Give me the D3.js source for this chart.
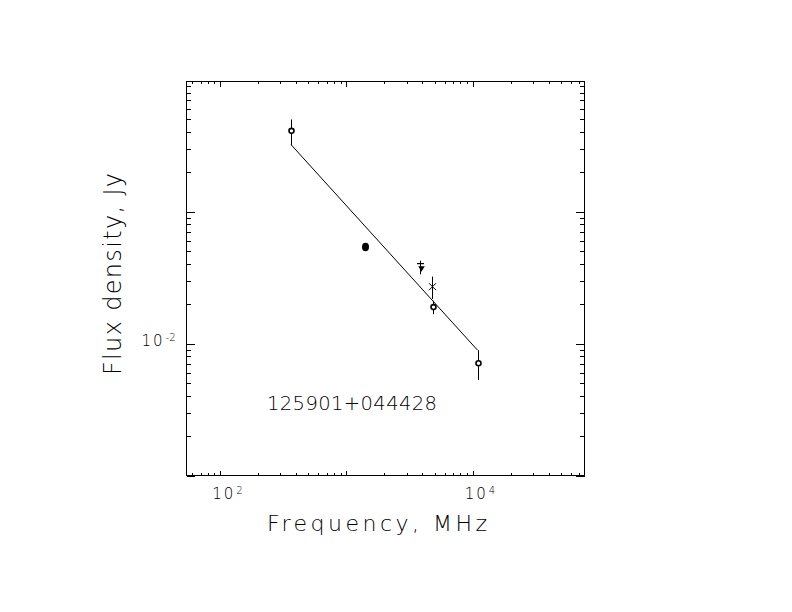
<!DOCTYPE html>
<html>
<head>
<meta charset="utf-8">
<script src="https://cdn.jsdelivr.net/npm/d3@7"></script>
<style>
    body { margin: 0; background: #fff; }
    svg { display: block; font-family: "DejaVu Sans", sans-serif; font-weight: 200; }
    .axis path { display: none; }
    .axis line { stroke: #000; stroke-width: 1; shape-rendering: crispEdges; }
</style>
</head>
<body>
<div id="chart"></div>
<script>

// measurements of the source
var freq = [365, 1400, 3850, 4800, 4850, 10950];
var flux = [0.41, 0.054, 0.038, 0.027, 0.0189, 0.0071];
var fluxErr = [0.09, 0, 0.0045, 0.0052, 0.0022, 0.0018];
var symbols = ["open", "filled", "star", "cross", "open", "open"];

// fitted power law, drawn between first and last frequency
var fitFreq = [365, 10950];
var fitFlux = [0.321, 0.0089];

// tick labels (10^exp)
var xLabelValues = [100, 10000];
var xLabelExps = ["2", "4"];
var yLabelValues = [0.01];
var yLabelExps = ["-2"];

var sourceName = "125901+044428";

var chart = {};
chart.width = 792;
chart.height = 612;
chart.left = 186.5;
chart.right = 584.5;
chart.top = 81.5;
chart.bottom = 475.5;

chart.svg = d3.select("#chart")
    .append("svg")
    .attr("width", chart.width)
    .attr("height", chart.height);

chart.svg.append("rect")
    .attr("width", chart.width)
    .attr("height", chart.height)
    .attr("fill", "#fff");

/*
SCALES
*/
chart.xScale = d3.scaleLog()
    .domain([54, 77000])
    .range([chart.left, chart.right]);

chart.yScale = d3.scaleLog()
    .domain([0.001, 0.97])
    .range([chart.bottom, chart.top]);

var isMajor = function(v) {
    return Math.abs(Math.log10(v) - Math.round(Math.log10(v))) < 1e-6;
};

var xTicks = chart.xScale.ticks();
var yTicks = chart.yScale.ticks();
var xMinor = xTicks.filter(function(v) { return !isMajor(v); });
var xMajor = xTicks.filter(isMajor);
var yMinor = yTicks.filter(function(v) { return !isMajor(v); });
var yMajor = yTicks.filter(isMajor);

/*
TICKS ON ALL FOUR SIDES, POINTING IN
*/
function ticks(axis, vals, size, transform) {
    chart.svg.append("g")
        .attr("class", "axis")
        .attr("transform", transform)
        .call(axis.tickValues(vals).tickSize(-size).tickFormat(""));
}

ticks(d3.axisBottom(chart.xScale), xMinor, 2.5, `translate(0,${chart.bottom})`);
ticks(d3.axisBottom(chart.xScale), xMajor, 5, `translate(0,${chart.bottom})`);
ticks(d3.axisTop(chart.xScale), xMinor, 2.5, `translate(0,${chart.top})`);
ticks(d3.axisTop(chart.xScale), xMajor, 5, `translate(0,${chart.top})`);
ticks(d3.axisLeft(chart.yScale), yMinor, 4.5, `translate(${chart.left},0)`);
ticks(d3.axisLeft(chart.yScale), yMajor, 8.5, `translate(${chart.left},0)`);
ticks(d3.axisRight(chart.yScale), yMinor, 4.5, `translate(${chart.right},0)`);
ticks(d3.axisRight(chart.yScale), yMajor, 8.5, `translate(${chart.right},0)`);

chart.svg.append("rect")
    .attr("x", chart.left)
    .attr("y", chart.top)
    .attr("width", chart.right - chart.left)
    .attr("height", chart.bottom - chart.top)
    .attr("fill", "none")
    .attr("stroke", "#000")
    .attr("stroke-width", 1)
    .attr("shape-rendering", "crispEdges");

/*
TICK LABELS
*/
xLabelValues.forEach(function(v, i) {
    var t = chart.svg.append("text")
        .attr("x", chart.xScale(v) - 8)
        .attr("y", 499)
        .attr("font-size", 15)
        .attr("letter-spacing", 2);
    t.append("tspan").text("10");
    t.append("tspan")
        .attr("font-size", 10)
        .attr("dy", -5)
        .attr("dx", 1)
        .text(xLabelExps[i]);
});

yLabelValues.forEach(function(v, i) {
    var t = chart.svg.append("text")
        .attr("x", 141.5)
        .attr("y", chart.yScale(v) + 2)
        .attr("font-size", 15)
        .attr("letter-spacing", 2);
    t.append("tspan").text("10");
    t.append("tspan")
        .attr("font-size", 10)
        .attr("dy", -5)
        .attr("dx", 1)
        .attr("letter-spacing", 0)
        .text(yLabelExps[i]);
});

/*
AXIS TITLES
*/
chart.svg.append("text")
    .attr("x", 267)
    .attr("y", 530.5)
    .attr("font-size", 22)
    .attr("textLength", 220)
    .attr("lengthAdjust", "spacing")
    .text("Frequency, MHz");

chart.svg.append("text")
    .attr("transform", "translate(121,375) rotate(-90)")
    .attr("font-size", 24)
    .attr("textLength", 202)
    .attr("lengthAdjust", "spacing")
    .text("Flux density, Jy");

chart.svg.append("text")
    .attr("x", 267)
    .attr("y", 409.5)
    .attr("font-size", 19.5)
    .attr("textLength", 170)
    .attr("lengthAdjust", "spacing")
    .text(sourceName);

/*
FIT LINE
*/
var fit = fitFreq.map(function(f, i) { return [f, fitFlux[i]]; });

chart.svg.append("path")
    .datum(fit)
    .attr("d", d3.line()
        .x(function(d) { return chart.xScale(d[0]); })
        .y(function(d) { return chart.yScale(d[1]); }))
    .attr("fill", "none")
    .attr("stroke", "#000")
    .attr("stroke-width", 1);

/*
POINTS WITH ERROR BARS
*/
var points = freq.map(function(f, i) {
    return { freq: f, flux: flux[i], err: fluxErr[i], sym: symbols[i] };
});

chart.svg.selectAll(".err")
    .data(points.filter(function(d) { return d.err > 0; }))
    .enter()
    .append("line")
    .attr("class", "err")
    .attr("x1", function(d) { return Math.round(chart.xScale(d.freq)) + 0.5; })
    .attr("x2", function(d) { return Math.round(chart.xScale(d.freq)) + 0.5; })
    .attr("y1", function(d) { return chart.yScale(d.flux + d.err); })
    .attr("y2", function(d) { return chart.yScale(d.flux - d.err); })
    .attr("stroke", "#000")
    .attr("stroke-width", 1);

chart.marks = chart.svg.selectAll(".mark")
    .data(points)
    .enter()
    .append("g")
    .attr("class", "mark")
    .attr("transform", function(d) {
        return `translate(${Math.round(chart.xScale(d.freq)) + 0.5},${chart.yScale(d.flux)})`;
    });

chart.marks.filter(function(d) { return d.sym === "open"; })
    .append("circle")
    .attr("r", 2.5)
    .attr("fill", "#fff")
    .attr("stroke", "#000")
    .attr("stroke-width", 1.6);

chart.marks.filter(function(d) { return d.sym === "filled"; })
    .append("ellipse")
    .attr("rx", 3.5)
    .attr("ry", 4.2)
    .attr("fill", "#000");

chart.marks.filter(function(d) { return d.sym === "cross"; })
    .append("path")
    .attr("d", "M-3.5,-3.5L3.5,3.5M-3.5,3.5L3.5,-3.5")
    .attr("stroke", "#000")
    .attr("stroke-width", 1)
    .attr("fill", "none");

var star = chart.marks.filter(function(d) { return d.sym === "star"; });
star.append("path")
    .attr("d", "M-3.5,-3.5H3.5")
    .attr("stroke", "#000")
    .attr("stroke-width", 1.2);
star.append("path")
    .attr("d", d3.symbol().type(d3.symbolTriangle).size(18)())
    .attr("transform", "translate(1,1) rotate(180)")
    .attr("fill", "#000");

</script>
</body>
</html>
